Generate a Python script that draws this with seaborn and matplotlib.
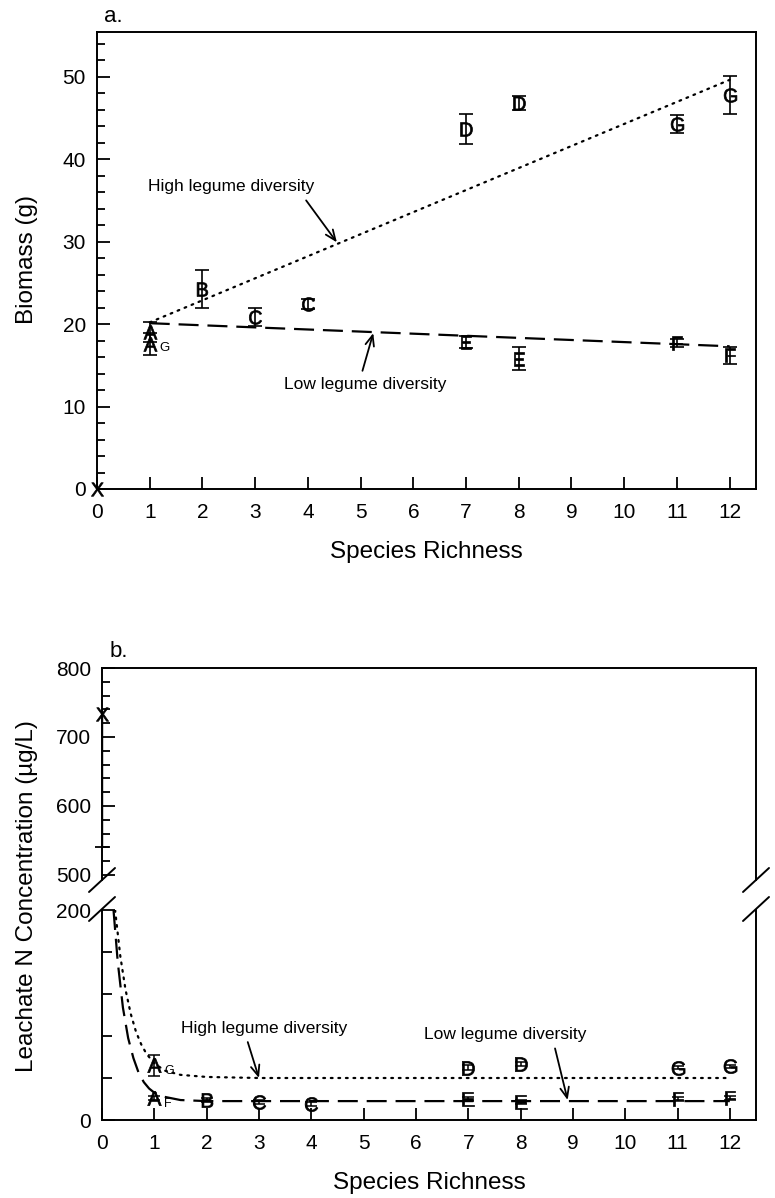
import numpy as np
import pandas as pd
import matplotlib
matplotlib.use("Agg")
import matplotlib.pyplot as plt
from matplotlib.lines import Line2D
import seaborn as sns

# ---------------- data ----------------
# Panel a: biomass
a_x = [1, 1, 2, 3, 4, 7, 8, 11, 12, 7, 8, 11, 12]
a_y = [19.0, 17.6, 24.2, 20.8, 22.4, 43.6, 46.8, 44.2, 47.8, 17.8, 15.8, 17.7, 16.2]
a_err = [1.2, 1.3, 2.3, 1.1, 0.6, 1.8, 0.8, 1.1, 2.3, 0.7, 1.4, 0.5, 1.0]
a_lab = ["A", "A", "B", "C", "C", "D", "D", "G", "G", "E", "E", "F", "F"]
a_ctrl_x = [0]
a_ctrl_y = [0]
a_high_x = [1, 12]
a_high_y = [20.2, 49.6]
a_low_x = [1, 12]
a_low_y = [20.1, 17.3]

# Panel b: leachate N
b_high_x = [1, 7, 8, 11, 12]
b_high_y = [52, 50, 53, 50, 51]
b_high_err = [10, 2, 2, 1.5, 1.5]
b_high_lab = ["A", "D", "D", "G", "G"]
b_low_x = [1, 2, 3, 4, 7, 8, 11, 12]
b_low_y = [21, 19, 17, 15, 20, 17, 20, 21]
b_low_err = [2, 2, 2, 2, 2, 2, 2, 2]
b_low_lab = ["A", "B", "C", "C", "E", "E", "F", "F"]
b_ctrl_x = [0]
b_ctrl_y = [733]
b_ctrl_err_low = [193]
curve_high_x = [0.25, 0.35, 0.45, 0.55, 0.65, 0.75, 0.85, 1.0, 1.2, 1.5, 2.0, 3.0, 6.0, 12.0]
curve_high_y = [200, 156, 124, 101, 84, 72, 63, 54, 47, 43, 41, 40, 40, 40]
curve_low_x = [0.22, 0.3, 0.4, 0.5, 0.6, 0.7, 0.8, 0.9, 1.0, 1.2, 1.5, 2.0, 3.0, 6.0, 12.0]
curve_low_y = [200, 151, 107, 78, 59, 45, 36, 30, 26, 22, 19, 18, 18, 18, 18]

# ---------------- style ----------------
sns.set_theme(style="ticks")
plt.rcParams["font.family"] = ["Liberation Sans", "DejaVu Sans"]
plt.rcParams["mathtext.fontset"] = "custom"
plt.rcParams["mathtext.rm"] = "Liberation Sans"
plt.rcParams["axes.linewidth"] = 1.4
for k in ["text.color", "axes.labelcolor", "xtick.color", "ytick.color", "axes.edgecolor"]:
    plt.rcParams[k] = "black"

W, H = 775, 1198
fig = plt.figure(figsize=(W / 100, H / 100), dpi=100)


def px_rect(l, t, r, b):
    return [l / W, 1 - b / H, (r - l) / W, (b - t) / H]


ax_a = fig.add_axes(px_rect(97, 32, 756, 489))
ax_bt = fig.add_axes(px_rect(102, 668, 756, 880))
ax_bb = fig.add_axes(px_rect(102, 910, 756, 1120))

TICK_FS = 15
LAB_FS = 17.5
ANN_FS = 12.5


def letters(ax, xs, ys, labs, s):
    df = pd.DataFrame(dict(x=xs, y=ys, lab=labs))
    for L, g in df.groupby("lab"):
        sns.scatterplot(data=g, x="x", y="y", marker=f"$\\mathrm{{{L}}}$", s=s,
                        color="black", edgecolor="black", linewidth=0.5, alpha=1,
                        ax=ax, clip_on=False, zorder=5, legend=False)


def style_axes(ax):
    ax.tick_params(axis="both", which="both", direction="in", colors="black",
                   labelcolor="black", labelsize=TICK_FS, width=1.3)
    ax.tick_params(axis="both", which="major", length=9)
    ax.tick_params(axis="both", which="minor", length=5.5)
    ax.tick_params(axis="y", pad=8)
    ax.tick_params(axis="x", pad=10)
    for sp in ax.spines.values():
        sp.set_color("black")
    ax.set_xlabel("")
    ax.set_ylabel("")


dot_ls = (0, (0.8, 2.6))
dash_ls = (0, (9, 4))

# ---------------- panel a ----------------
sns.lineplot(x=a_high_x, y=a_high_y, ax=ax_a, color="black", lw=1.6,
             linestyle=dot_ls, dash_capstyle="round", zorder=2)
sns.lineplot(x=a_low_x, y=a_low_y, ax=ax_a, color="black", lw=1.6,
             linestyle=dash_ls, zorder=2)
ax_a.errorbar(a_x, a_y, yerr=a_err, fmt="none", ecolor="black", elinewidth=1.2,
              capsize=5, capthick=1.2, zorder=4)
letters(ax_a, a_x, a_y, a_lab, 100)
ax_a.annotate("G", xy=(a_x[1], a_y[1]), xytext=(7, -3), textcoords="offset points",
              fontsize=9.5, ha="left", va="center")
letters(ax_a, a_ctrl_x, a_ctrl_y, ["X"], 95)

ax_a.set_xlim(0, 12.5)
ax_a.set_ylim(0, 55.4)
ax_a.set_xticks(range(0, 13))
ax_a.set_yticks([0, 10, 20, 30, 40, 50])
ax_a.set_yticks(np.arange(0, 55, 2), minor=True)
style_axes(ax_a)
ax_a.set_xlabel("Species Richness", fontsize=LAB_FS, labelpad=14)

ax_a.annotate("High legume diversity", xy=(4.55, 29.9), xytext=(2.55, 36.7),
              ha="center", va="center", fontsize=ANN_FS,
              arrowprops=dict(arrowstyle="->,head_length=0.6,head_width=0.25",
                              color="black", lw=1.3, relpos=(0.92, 0), shrinkA=3, shrinkB=0))
ax_a.annotate("Low legume diversity", xy=(5.24, 18.9), xytext=(5.08, 12.7),
              ha="center", va="center", fontsize=ANN_FS,
              arrowprops=dict(arrowstyle="->,head_length=0.6,head_width=0.25",
                              color="black", lw=1.3, relpos=(0.475, 1), shrinkA=2, shrinkB=0))

# ---------------- panel b (broken axis) ----------------
# upper part: control (no plants) with its lower error bar
ax_bt.errorbar(b_ctrl_x, b_ctrl_y, yerr=[b_ctrl_err_low, [0]], fmt="none", ecolor="black",
               elinewidth=1.0, capsize=0, clip_on=False, zorder=4)
sns.scatterplot(x=b_ctrl_x, y=[yv - ev for yv, ev in zip(b_ctrl_y, b_ctrl_err_low)],
                marker="_", s=110, color="black", linewidth=1.3, ax=ax_bt,
                clip_on=False, zorder=4, legend=False)
letters(ax_bt, b_ctrl_x, b_ctrl_y, ["X"], 95)
ax_bt.set_xlim(0, 12.5)
ax_bt.set_ylim(492.7, 800)
ax_bt.set_yticks([500, 600, 700, 800])
ax_bt.set_yticks(np.arange(500, 801, 20), minor=True)
ax_bt.set_xticks([])
style_axes(ax_bt)
ax_bt.spines["bottom"].set_visible(False)

# lower part
sns.lineplot(x=curve_high_x, y=curve_high_y, ax=ax_bb, color="black", lw=1.6,
             linestyle=dot_ls, dash_capstyle="round", zorder=2, sort=False)
sns.lineplot(x=curve_low_x, y=curve_low_y, ax=ax_bb, color="black", lw=1.6,
             linestyle=dash_ls, zorder=2, sort=False)
ax_bb.errorbar(b_high_x, b_high_y, yerr=b_high_err, fmt="none", ecolor="black",
               elinewidth=1.1, capsize=4.5, capthick=1.1, zorder=4)
ax_bb.errorbar(b_low_x, b_low_y, yerr=b_low_err, fmt="none", ecolor="black",
               elinewidth=1.1, capsize=4.5, capthick=1.1, zorder=4)
letters(ax_bb, b_high_x, b_high_y, b_high_lab, 105)
letters(ax_bb, b_low_x, b_low_y, b_low_lab, 105)
ax_bb.annotate("G", xy=(b_high_x[0], b_high_y[0]), xytext=(7, -4), textcoords="offset points",
               fontsize=9, ha="left", va="center")
ax_bb.annotate("F", xy=(b_low_x[0], b_low_y[0]), xytext=(7, -4), textcoords="offset points",
               fontsize=9, ha="left", va="center")
ax_bb.set_xlim(0, 12.5)
ax_bb.set_ylim(0, 200)
ax_bb.set_xticks(range(0, 13))
ax_bb.set_yticks([0, 200])
ax_bb.set_yticks([40, 80, 120, 160], minor=True)
style_axes(ax_bb)
ax_bb.tick_params(axis="y", which="minor", length=7)
ax_bb.spines["top"].set_visible(False)
ax_bb.set_xlabel("Species Richness", fontsize=LAB_FS, labelpad=14)

ax_bb.annotate("High legume diversity", xy=(3.0, 40), xytext=(3.1, 87),
               ha="center", va="center", fontsize=ANN_FS,
               arrowprops=dict(arrowstyle="->,head_length=0.6,head_width=0.25",
                               color="black", lw=1.3, relpos=(0.39, 0), shrinkA=2, shrinkB=0))
ax_bb.annotate("Low legume diversity", xy=(8.9, 19), xytext=(7.7, 81),
               ha="center", va="center", fontsize=ANN_FS,
               arrowprops=dict(arrowstyle="->,head_length=0.6,head_width=0.25",
                               color="black", lw=1.3, relpos=(0.8, 0), shrinkA=2, shrinkB=0))

# break marks
for cx, cy in [(102, 880), (102, 909), (756, 880), (756, 909)]:
    fig.add_artist(Line2D([(cx - 13) / W, (cx + 13) / W],
                          [1 - (cy + 12) / H, 1 - (cy - 12) / H],
                          color="black", lw=1.4, transform=fig.transFigure))

# labels
fig.text(27 / W, 1 - 260 / H, "Biomass (g)", rotation=90, ha="center", va="center",
         fontsize=LAB_FS)
fig.text(27 / W, 1 - 896 / H, "Leachate N Concentration (\u00b5g/L)", rotation=90,
         ha="center", va="center", fontsize=LAB_FS)
fig.text(104 / W, 1 - 16 / H, "a.", ha="left", va="center", fontsize=16)
fig.text(110 / W, 1 - 651 / H, "b.", ha="left", va="center", fontsize=16)

fig.savefig("out.png", dpi=100)
